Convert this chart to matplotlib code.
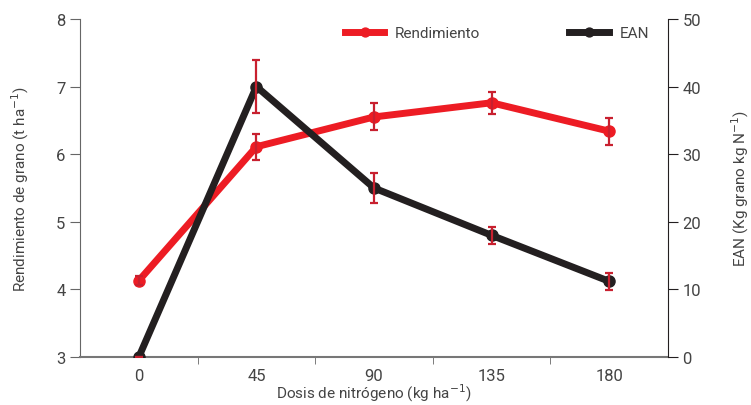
import matplotlib
matplotlib.use("Agg")
import matplotlib.pyplot as plt

# data
dosis = ["0", "45", "90", "135", "180"]
rendimiento = [4.13, 6.11, 6.55, 6.76, 6.34]
rend_err = [0.07, 0.19, 0.20, 0.16, 0.20]
ean = [0.0, 40.0, 25.0, 18.0, 11.2]
ean_err = [0.0, 3.9, 2.2, 1.3, 1.25]

plt.rcParams["font.family"] = ["Roboto", "DejaVu Sans"]
red = "#ed1c24"
err_red = "#c8202f"
black = "#231f20"
grey = "#444444"

fig = plt.figure(figsize=(7.51, 4.06), dpi=100)
ax = fig.add_axes([0.1065, 0.118, 0.783, 0.833])
ax2 = ax.twinx()

x = list(range(len(dosis)))

ax.plot(x, rendimiento, color=red, lw=5, marker="o", ms=8, label="Rendimiento", zorder=3)
ax.errorbar(x, rendimiento, yerr=rend_err, fmt="none", ecolor=err_red, elinewidth=1.6,
            capsize=3, capthick=1.6, zorder=4)
ax2.plot(x, ean, color=black, lw=5, marker="o", ms=8, label="EAN", zorder=3)
ax2.errorbar(x, ean, yerr=ean_err, fmt="none", ecolor=err_red, elinewidth=1.6,
             capsize=3, capthick=1.6, zorder=4)

ax.set_xlim(-0.5, len(dosis) - 0.5)
ax.set_ylim(3, 8)
ax2.set_ylim(0, 50)

ax.set_xticks(x)
ax.set_xticklabels(dosis)
ax.set_xticks([i + 0.5 for i in x[:-1]], minor=True)
ax.tick_params(axis="x", which="major", length=0, labelsize=12, colors=grey, pad=8)
ax.tick_params(axis="x", which="minor", length=5, color="#666666")
ax.tick_params(axis="y", length=7, labelsize=12, colors=grey, color="#666666")
ax2.tick_params(axis="y", length=7, labelsize=12, colors=grey, color=black)

ax.set_xlabel("Dosis de nitrógeno (kg ha$^{-1}$)", fontsize=11, color=grey, labelpad=-1)
ax.set_ylabel("Rendimiento de grano (t ha$^{-1}$)", fontsize=11, color=grey, labelpad=18)
ax2.set_ylabel("EAN (Kg grano kg N$^{-1}$)", fontsize=11, color=grey, labelpad=20)

for a in (ax, ax2):
    a.spines["top"].set_visible(False)
ax.spines["left"].set_color("#666666")
ax.spines["bottom"].set_color("#777777")
ax.spines["bottom"].set_linewidth(1.5)
ax2.spines["right"].set_color(black)
ax2.spines["left"].set_visible(False)
ax2.spines["bottom"].set_visible(False)
ax.spines["right"].set_visible(False)

h1, l1 = ax.get_legend_handles_labels()
h2, l2 = ax2.get_legend_handles_labels()
fig.legend(h1 + h2, l1 + l2, loc="upper left", bbox_to_anchor=(0.459, 0.933), ncol=2,
           frameon=False, fontsize=11, columnspacing=5.8, handlelength=2.6,
           handletextpad=0.7, borderpad=0, borderaxespad=0, markerscale=0.8,
           labelcolor=grey)

fig.savefig("out.png", dpi=100)
